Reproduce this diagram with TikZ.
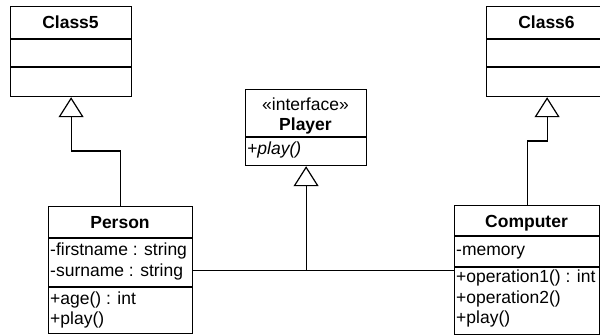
\documentclass[tikz,border=0pt]{standalone}
\usepackage{fontspec}
\setmainfont{Liberation Sans}
\usetikzlibrary{arrows.meta}
\begin{document}
\begin{tikzpicture}[x=1pt,y=-1pt,
  box/.style={draw, line width=1.2pt, inner sep=0pt, anchor=north west},
  sep/.style={line width=1.2pt},
  title/.style={font=\fontsize{17.5}{20}\selectfont\bfseries, inner sep=0pt, text height=12.5pt, text depth=0pt},
  stereo/.style={font=\fontsize{17.5}{20}\selectfont, inner sep=0pt, text height=12.5pt, text depth=0pt},
  member/.style={font=\fontsize{17.5}{20}\selectfont, inner sep=0pt, anchor=west, text height=12.5pt, text depth=3.5pt},
  gen/.style={line width=1.2pt, -{Triangle[open, length=20pt, width=25pt, line width=1.2pt]}},
  assoc/.style={line width=1.2pt}]
\useasboundingbox (0,0) rectangle (600,335);
\clip (0,0) rectangle (600,335);

% Class5
\node[box, minimum width=121pt, minimum height=90pt] (c5) at (10,6) {};
\draw[sep] (c5.west |- 0,39) -- (c5.east |- 0,39);
\draw[sep] (c5.west |- 0,67) -- (c5.east |- 0,67);
\node[title] (c5t) at (70.5,22.5) {Class5};

% Class6
\node[box, minimum width=121pt, minimum height=90pt] (c6) at (486,6) {};
\draw[sep] (c6.west |- 0,39) -- (c6.east |- 0,39);
\draw[sep] (c6.west |- 0,67) -- (c6.east |- 0,67);
\node[title] (c6t) at (546.5,22.5) {Class6};

% Player
\node[box, minimum width=121pt, minimum height=76pt] (player) at (245,89) {};
\draw[sep] (player.west |- 0,137) -- (player.east |- 0,137);
\node[stereo] (pst) at (305.5,104) {«interface»};
\node[title] (pt) at (305.5,124.5) {Player};
\node[member] (pm1) at (247,150) {\itshape +play()};

% Person
\node[box, minimum width=144pt, minimum height=127pt] (person) at (48,206) {};
\draw[sep] (person.west |- 0,238) -- (person.east |- 0,238);
\draw[sep] (person.west |- 0,287) -- (person.east |- 0,287);
\node[title] (pet) at (120,222) {Person};
\node[member] (pe1) at (50,251) {-firstname : string};
\node[member] (pe2) at (50,272) {-surname : string};
\node[member] (pe3) at (50,300) {+age() : int};
\node[member] (pe4) at (50,320) {+play()};

% Computer
\node[box, minimum width=145pt, minimum height=129pt] (computer) at (454,205) {};
\draw[sep] (computer.west |- 0,236) -- (computer.east |- 0,236);
\draw[sep] (computer.west |- 0,267) -- (computer.east |- 0,267);
\node[title] (cot) at (526.5,221.5) {Computer};
\node[member] (co1) at (456,251) {-memory};
\node[member] (co2) at (456,278) {+operation1() : int};
\node[member] (co3) at (456,299) {+operation2()};
\node[member] (co4) at (456,319) {+play()};

% Connectors
\draw[gen] (person.north) -- ++(0,-55) -| (c5.south);
\draw[gen] (computer.north) -- ++(0,-64) -| (c6.south);
\draw[assoc] (person.east) -- (computer.west);
\coordinate (j) at (player.south |- person.east);
\draw[gen] (j) -- (player.south);
\end{tikzpicture}
\end{document}
